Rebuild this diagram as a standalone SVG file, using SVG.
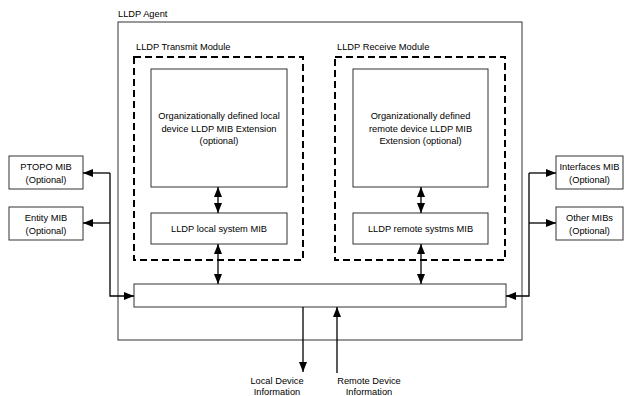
<svg xmlns="http://www.w3.org/2000/svg" width="626" height="396" viewBox="0 0 626 396">
<defs>
<marker id="ah" viewBox="0 0 10 8" refX="10" refY="4" markerWidth="10" markerHeight="8" markerUnits="userSpaceOnUse" orient="auto-start-reverse">
<path d="M0,0 L10,4 L0,8 Z" fill="#000"/>
</marker>
<style>
.box{fill:#fff;stroke:#333;stroke-width:1}
.dash{fill:none;stroke:#000;stroke-width:2;stroke-dasharray:7,4}
.ln{fill:none;stroke:#000;stroke-width:1.3}
text{font-family:"Liberation Sans",Arial,sans-serif;font-size:9.3px;fill:#000}
.c{text-anchor:middle}
</style>
</defs>
<rect width="626" height="396" fill="#fff"/>
<g id="agent">
<rect class="box" x="118" y="22" width="404" height="318"/>
<text x="118" y="17">LLDP Agent</text>
</g>
<g id="transmit">
<rect class="dash" x="134" y="57" width="169" height="203"/>
<text x="136" y="50">LLDP Transmit Module</text>
</g>
<g id="receive">
<rect class="dash" x="335" y="57" width="170" height="203"/>
<text x="337" y="50">LLDP Receive Module</text>
</g>
<g id="local-ext">
<rect class="box" x="151" y="69" width="136" height="118"/>
<text class="c" x="219" y="119">Organizationally defined local</text>
<text class="c" x="219" y="131.5">device LLDP MIB Extension</text>
<text class="c" x="219" y="144">(optional)</text>
</g>
<g id="local-mib">
<rect class="box" x="151" y="213" width="136" height="31"/>
<text class="c" x="219" y="232">LLDP local system MIB</text>
</g>
<g id="remote-ext">
<rect class="box" x="353" y="69" width="135" height="118"/>
<text class="c" x="420.5" y="119">Organizationally defined</text>
<text class="c" x="420.5" y="131.5">remote device LLDP MIB</text>
<text class="c" x="420.5" y="144">Extension (optional)</text>
</g>
<g id="remote-mib">
<rect class="box" x="353" y="213" width="135" height="31"/>
<text class="c" x="420.5" y="232">LLDP remote systms MIB</text>
</g>
<g id="bar">
<rect class="box" x="134" y="284" width="372" height="23"/>
</g>
<g id="ptopo">
<rect class="box" x="9" y="156" width="74" height="33"/>
<text class="c" x="46" y="170">PTOPO MIB</text>
<text class="c" x="46" y="182.5">(Optional)</text>
</g>
<g id="entity">
<rect class="box" x="9" y="207" width="74" height="33"/>
<text class="c" x="46" y="221">Entity MIB</text>
<text class="c" x="46" y="233.5">(Optional)</text>
</g>
<g id="interfaces">
<rect class="box" x="556" y="156" width="67" height="33"/>
<text class="c" x="589.5" y="170">Interfaces MIB</text>
<text class="c" x="589.5" y="182.5">(Optional)</text>
</g>
<g id="other">
<rect class="box" x="556" y="207" width="67" height="33"/>
<text class="c" x="589.5" y="221">Other MIBs</text>
<text class="c" x="589.5" y="233.5">(Optional)</text>
</g>
<g id="local-info">
<text class="c" x="277" y="383.5">Local Device</text>
<text class="c" x="277" y="395">Information</text>
</g>
<g id="remote-info">
<text class="c" x="369" y="383.5">Remote Device</text>
<text class="c" x="369" y="395">Information</text>
</g>
<g id="connectors">
<line class="ln" x1="218" y1="187" x2="218" y2="213" marker-start="url(#ah)" marker-end="url(#ah)"/>
<line class="ln" x1="421" y1="187" x2="421" y2="213" marker-start="url(#ah)" marker-end="url(#ah)"/>
<line class="ln" x1="218" y1="244" x2="218" y2="284" marker-start="url(#ah)" marker-end="url(#ah)"/>
<line class="ln" x1="421" y1="244" x2="421" y2="284" marker-start="url(#ah)" marker-end="url(#ah)"/>
<line class="ln" x1="303" y1="307" x2="303" y2="372" marker-end="url(#ah)"/>
<line class="ln" x1="337" y1="373" x2="337" y2="307" marker-end="url(#ah)"/>
<polyline class="ln" points="110,173 110,296 134,296" marker-end="url(#ah)"/>
<line class="ln" x1="110" y1="173" x2="83" y2="173" marker-end="url(#ah)"/>
<line class="ln" x1="110" y1="223" x2="83" y2="223" marker-end="url(#ah)"/>
<polyline class="ln" points="529,173 529,296 506,296" marker-end="url(#ah)"/>
<line class="ln" x1="529" y1="173" x2="556" y2="173" marker-end="url(#ah)"/>
<line class="ln" x1="529" y1="223" x2="556" y2="223" marker-end="url(#ah)"/>
</g>
</svg>
